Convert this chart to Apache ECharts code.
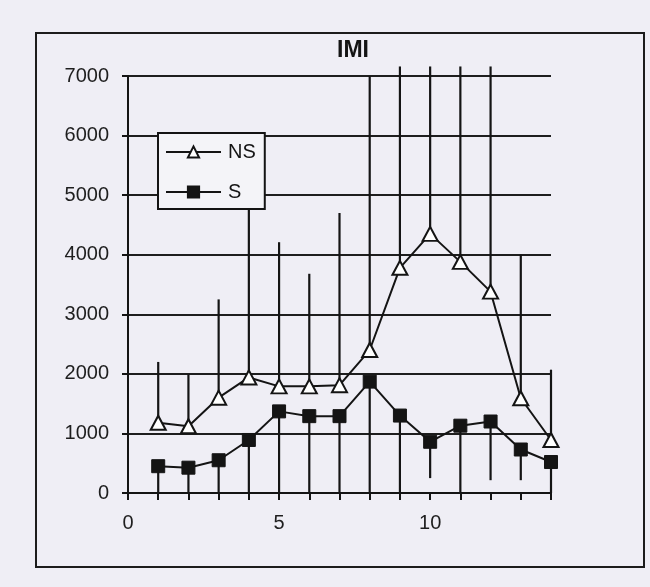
<!DOCTYPE html>
<html>
<head>
<meta charset="utf-8">
<script src="https://cdn.jsdelivr.net/npm/echarts@6/dist/echarts.min.js"></script>
<style>
  html, body { margin: 0; padding: 0; background: #efeef5; }
  #chart { width: 650px; height: 587px; }
</style>
</head>
<body>
<div id="chart"></div>
<script>
// Positions along the x axis
const positions = [1, 2, 3, 4, 5, 6, 7, 8, 9, 10, 11, 12, 13, 14];
// NS series: mean values and the top of each upper error bar
const nsValues = [1180, 1120, 1600, 1940, 1790, 1790, 1810, 2400, 3780, 4350, 3880, 3380, 1590, 890];
const nsUpper  = [2200, 1990, 3250, 5400, 4210, 3680, 4700, 7000, 7160, 7160, 7160, 7160, 4000, 2070];
// S series: mean values and the bottom of each lower error bar
const sValues  = [450, 425, 550, 890, 1370, 1290, 1290, 1870, 1300, 860, 1130, 1200, 730, 520];
const sLower   = [0, 0, 0, 0, 0, 0, 0, 0, 0, 250, 0, 215, 215, 0];
// Axis settings
const yTicks = [0, 1000, 2000, 3000, 4000, 5000, 6000, 7000];
const xLabels = [0, 5, 10];

const ink = '#141414';
const font = '"Liberation Sans", Arial, sans-serif';

const nsPoints = positions.map((x, i) => [x, nsValues[i]]);
const sPoints = positions.map((x, i) => [x, sValues[i]]);
const nsBars = positions.map((x, i) => [x, nsValues[i], nsUpper[i]]);
const sBars = positions.map((x, i) => [x, sValues[i], sLower[i]]);

function errorBar(params, api) {
  const a = api.coord([api.value(0), api.value(1)]);
  const b = api.coord([api.value(0), api.value(2)]);
  return {
    type: 'line',
    shape: { x1: a[0], y1: a[1], x2: b[0], y2: b[1] },
    style: { stroke: ink, lineWidth: 2.2 }
  };
}

const chart = echarts.init(document.getElementById('chart'), null, { renderer: 'canvas' });
chart.setOption({
  animation: false,
  backgroundColor: '#efeef5',
  grid: { left: 128, right: 99, top: 76, bottom: 94, containLabel: false },
  graphic: [
    {
      type: 'rect', z: -1,
      shape: { x: 36, y: 33, width: 608, height: 534 },
      style: { fill: 'none', stroke: '#1c1c1c', lineWidth: 2 }
    },
    {
      type: 'text',
      x: 353, y: 51,
      style: { text: 'IMI', align: 'center', verticalAlign: 'middle', font: 'bold 23px ' + font, fill: ink }
    }
  ],
  legend: {
    data: ['NS', 'S'],
    orient: 'vertical',
    left: 158, top: 133,
    padding: [9, 9, 7, 7],
    itemWidth: 55, itemHeight: 14, itemGap: 20,
    backgroundColor: '#f4f4f8',
    borderColor: ink, borderWidth: 2, borderRadius: 0,
    textStyle: { fontSize: 20, fontFamily: font, color: ink, padding: [0, 0, 0, 2] }
  },
  xAxis: {
    type: 'value', min: 0, max: 14, interval: 1,
    axisLine: { lineStyle: { color: ink, width: 2 } },
    axisTick: { show: true, length: 7, lineStyle: { color: ink, width: 2 } },
    axisLabel: {
      margin: 20, fontSize: 20, fontFamily: font, color: '#1e1e1e',
      formatter: v => (xLabels.indexOf(v) >= 0 ? String(v) : '')
    },
    splitLine: { show: false }
  },
  yAxis: {
    type: 'value', min: yTicks[0], max: yTicks[yTicks.length - 1], interval: 1000,
    axisLine: { show: true, lineStyle: { color: ink, width: 2 } },
    axisTick: { show: true, length: 6, lineStyle: { color: ink, width: 2 } },
    axisLabel: {
      margin: 19, fontSize: 20, fontFamily: font, color: '#1e1e1e',
      formatter: v => String(v)
    },
    splitLine: { show: true, lineStyle: { color: '#1e1e1e', width: 2 } }
  },
  series: [
    {
      name: 'NS bars', type: 'custom', data: nsBars, renderItem: errorBar,
      encode: { x: 0, y: [1, 2] }, clip: false, z: 2, silent: true
    },
    {
      name: 'S bars', type: 'custom', data: sBars, renderItem: errorBar,
      encode: { x: 0, y: [1, 2] }, clip: false, z: 2, silent: true
    },
    {
      name: 'NS', type: 'line', data: nsPoints, z: 3,
      symbol: 'triangle', symbolSize: [15, 14],
      lineStyle: { color: ink, width: 2 },
      itemStyle: { color: '#ffffff', borderColor: ink, borderWidth: 2 }
    },
    {
      name: 'S', type: 'line', data: sPoints, z: 3,
      symbol: 'rect', symbolSize: 13,
      lineStyle: { color: ink, width: 2 },
      itemStyle: { color: ink, borderColor: ink, borderWidth: 1 }
    }
  ]
});
</script>
</body>
</html>
